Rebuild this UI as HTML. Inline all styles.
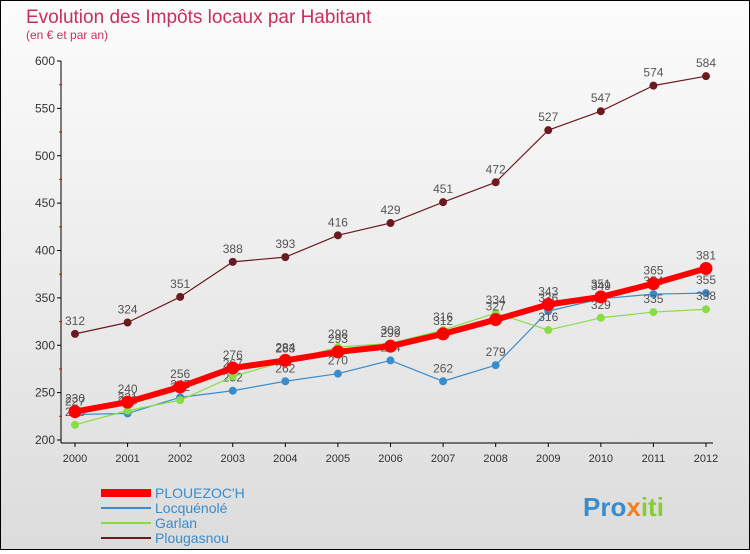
<!DOCTYPE html>
<html><head><meta charset="utf-8"><style>
body{margin:0;width:750px;height:550px;overflow:hidden;font-family:"Liberation Sans",sans-serif}
#wrap{position:relative;width:748px;height:548px;border:1px solid #000;background:linear-gradient(#fcfcfc,#dcdcdc)}
</style></head><body>
<div id="wrap">
<svg id="c" width="748" height="548"></svg>
</div>
<script>
const years=[2000,2001,2002,2003,2004,2005,2006,2007,2008,2009,2010,2011,2012];
const yTicks=[200,250,300,350,400,450,500,550,600];
const plouezoch=[230,240,256,276,284,293,299,312,327,343,351,365,381];
const locquenole=[227,228,245,252,262,270,284,262,279,336,349,354,355];
const garlan=[216,231,242,267,283,298,302,316,334,316,329,335,338];
const plougasnou=[312,324,351,388,393,416,429,451,472,527,547,574,584];
const NS='http://www.w3.org/2000/svg';
const svg=document.getElementById('c');
const X=i=>74+i*(705-74)/12;
const Y=v=>439-(v-200)*(379/400);
function mk(t,a,p){const e=document.createElementNS(NS,t);for(const k in a)e.setAttribute(k,a[k]);(p||svg).appendChild(e);return e;}
function tx(x,y,s,a,fill,size,name){const e=mk('text',{x:x,y:y,'text-anchor':a||'middle',fill:fill||'#444','font-size':size||12,'font-family':'Liberation Sans, sans-serif'});e.textContent=s;

return e;}
let t=tx(25,22,'Evolution des Impôts locaux par Habitant','start','#c8305a',19,'chart-title');
t=tx(25,38,'(en € et par an)','start','#c8305a',12,'chart-subtitle');
let ax=mk('line',{x1:60,y1:Y(600),x2:60,y2:Y(200)+3,stroke:'#000'});

ax=mk('line',{x1:60,y1:Y(200)+3,x2:712,y2:Y(200)+3,stroke:'#000'});

yTicks.forEach((v,i)=>{mk('line',{x1:56,y1:Y(v),x2:60,y2:Y(v),stroke:'#000'});
if(i<yTicks.length-1)mk('line',{x1:58,y1:Y(v+25),x2:61,y2:Y(v+25),stroke:'#e00'});
tx(54,Y(v)+4,String(v),'end','#333',12,'y-tick-label');});
years.forEach((y,i)=>{mk('line',{x1:X(i),y1:Y(200)+3,x2:X(i),y2:Y(200)+7,stroke:'#000'});
tx(X(i),Y(200)+22,String(y),'middle','#333',11,'x-tick-label');});
function series(arr,color,w,r,dot,name){
const pts=arr.map((v,i)=>X(i)+','+Y(v)).join(' ');
const l=mk('polyline',{points:pts,fill:'none',stroke:color,'stroke-width':w,'stroke-linejoin':'round'});

arr.forEach((v,i)=>{const c=mk('circle',{cx:X(i),cy:Y(v),r:r,fill:dot,stroke:color,'stroke-width':1});

tx(X(i),Y(v)-9,String(v),'middle','#555',12,name+'-value');});}
series(plougasnou,'#6b1a1f',1.2,3.5,'#6b1a1f','plougasnou');
series(locquenole,'#3a8ccc',1.2,3.5,'#3a8ccc','locquenole');
series(garlan,'#88dd44',1.2,3.5,'#88dd44','garlan');
series(plouezoch,'#ff0000',6,6,'#ff0000','plouezoch');
const leg=[['PLOUEZOC\'H','#ff0000',8],['Locquénolé','#3a8ccc',2],['Garlan','#88dd44',2],['Plougasnou','#6b1a1f',2]];
leg.forEach((l,i)=>{const y=492+i*15;
const ln=mk('line',{x1:100,y1:y,x2:150,y2:y,stroke:l[1],'stroke-width':l[2]});

tx(154,y+5,l[0],'start','#3a8ccc',14,'legend-entry');});
const logo=tx(582,515,'','start','#3a8ccc',26,'logo');
logo.setAttribute('font-weight','bold');
[['Pro','#3a8ccc'],['x','#f08020'],['iti','#88cc33']].forEach(p=>{const s=mk('tspan',{fill:p[1]},logo);s.textContent=p[0];});
</script>
</body></html>
